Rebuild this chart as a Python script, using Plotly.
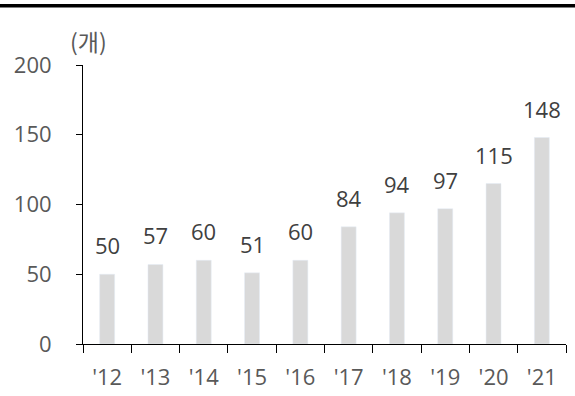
import plotly.graph_objects as go

years = ["'12", "'13", "'14", "'15", "'16", "'17", "'18", "'19", "'20", "'21"]
values = [50, 57, 60, 51, 60, 84, 94, 97, 115, 148]
y_ticks = [0, 50, 100, 150, 200]
unit_label = "(개)"

FONT = "Open Sans, Noto Sans CJK KR, sans-serif"
fig = go.Figure()
fig.add_trace(go.Bar(x=years, y=values, marker_color="#d9d9d9", width=0.31,
                     hoverinfo="skip"))
for x, v in zip(years, values):
    fig.add_annotation(x=x, y=v, text=str(v), showarrow=False, yanchor="bottom",
                       yshift=12, font=dict(family=FONT, size=22, color="#404040"))
fig.add_annotation(xref="paper", yref="paper", x=0.012, y=1.0, yshift=5, text=unit_label,
                   showarrow=False, xanchor="center", yanchor="bottom",
                   font=dict(family="Noto Sans CJK KR, sans-serif", size=23, color="#595959"))
fig.add_shape(type="line", xref="paper", yref="paper", x0=-0.2, x1=1.05,
              y0=1.212, y1=1.212, line=dict(color="black", width=3.5))
fig.update_layout(
    width=575, height=396, margin=dict(l=83, r=9, t=65, b=52, autoexpand=False),
    paper_bgcolor="white", plot_bgcolor="white", showlegend=False,
    font=dict(family=FONT, size=22, color="#595959"),
    xaxis=dict(showline=True, linecolor="black", linewidth=1, ticks="outside",
               ticklen=8, tickcolor="black", tickson="boundaries", showgrid=False,
               automargin=False,
               tickfont=dict(size=22, color="#595959"), ticklabelstandoff=14),
    yaxis=dict(range=[0, 200], tickvals=y_ticks, showline=True, linecolor="black",
               linewidth=1, ticks="outside", ticklen=6, tickcolor="black",
               showgrid=False, zeroline=False, automargin=False,
               tickfont=dict(size=22, color="#595959"),
               ticklabelstandoff=20),
)
fig.write_html("out.html")
